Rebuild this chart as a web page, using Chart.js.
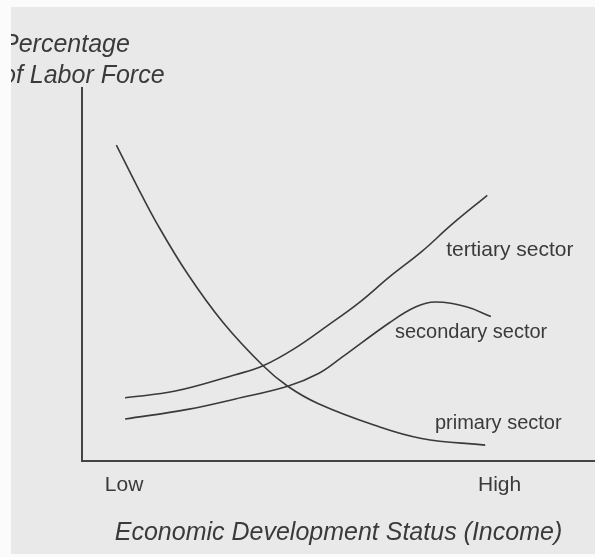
<!DOCTYPE html>
<html>
<head>
<meta charset="utf-8">
<script src="https://cdn.jsdelivr.net/npm/chart.js@4.4.0/dist/chart.umd.min.js"></script>
<style>
    html, body { margin: 0; padding: 0; background: #ffffff; }
    #wrap { width: 595px; height: 557px; }
</style>
</head>
<body>
<div id="wrap"><canvas id="chart" width="595" height="557"></canvas></div>
<script>
// Dados (escala 0-100 nos dois eixos)
const primaryX = [6.7, 10.8, 14.5, 20.6, 27.5, 35.3, 40.1, 46.1, 56.9, 66.2, 78.6];
const primaryY = [84.7, 73.5, 63.9, 50.1, 37.1, 25.5, 20.0, 15.3, 9.6, 6.0, 4.2];

const secondaryX = [8.4, 20.6, 29.9, 40.1, 46.1, 50.7, 60.0, 65.1, 68.8, 74.9, 79.7];
const secondaryY = [11.2, 13.8, 16.6, 20.0, 23.4, 27.8, 37.1, 41.3, 42.6, 41.3, 38.7];

const tertiaryX = [8.4, 18.2, 29.9, 35.3, 41.4, 48.0, 53.9, 60.0, 66.2, 72.1, 79.0];
const tertiaryY = [16.9, 18.7, 23.1, 25.5, 30.1, 36.4, 42.3, 49.4, 56.1, 63.4, 71.2];

const xTickValues = [8.2, 81.4];
const xTickLabels = ['Low', 'High'];

const yTitleLines = ['Percentage', 'of Labor Force'];
const xTitle = 'Economic Development Status (Income)';

const sectorLabels = ['tertiary sector', 'secondary sector', 'primary sector'];

const INK = '#3a3a3a';
const PAPER = '#e9e9e9';

function toPoints(xs, ys) {
    return xs.map((x, i) => ({ x: x, y: ys[i] }));
}

function lineDataset(label, xs, ys) {
    return {
        label: label,
        data: toPoints(xs, ys),
        borderColor: INK,
        borderWidth: 1.6,
        pointRadius: 0,
        fill: false,
        tension: 0.4
    };
}

// fundo cinza do papel e textos soltos
const paperPlugin = {
    id: 'paper',
    beforeDraw(chart) {
        const ctx = chart.ctx;
        ctx.save();
        ctx.fillStyle = PAPER;
        ctx.fillRect(0, 0, chart.width, chart.height);
        ctx.restore();
    },
    afterDraw(chart) {
        const ctx = chart.ctx;
        const xs = chart.scales.x;
        const ys = chart.scales.y;
        ctx.save();
        ctx.fillStyle = INK;
        ctx.textBaseline = 'middle';
        ctx.textAlign = 'left';

        const anchors = [[71.0, 56.4], [61.0, 34.5], [68.8, 9.9]];
        const sizes = [21, 20, 20];
        sectorLabels.forEach((txt, i) => {
            ctx.font = sizes[i] + 'px "Liberation Sans", Arial, sans-serif';
            ctx.fillText(txt, xs.getPixelForValue(anchors[i][0]), ys.getPixelForValue(anchors[i][1]));
        });

        ctx.font = 'italic 25px "Liberation Sans", Arial, sans-serif';
        ctx.textBaseline = 'alphabetic';
        ctx.fillText(yTitleLines[0], 2, 52);
        ctx.fillText(yTitleLines[1], 2, 83);

        // margem branca da digitalização
        ctx.fillStyle = '#fbfbfb';
        ctx.fillRect(0, 0, 11, chart.height);
        ctx.fillRect(0, 0, chart.width, 7);
        ctx.fillRect(0, chart.height - 3, chart.width, 3);
        ctx.restore();
    }
};

const ctx = document.getElementById('chart').getContext('2d');
const chart = new Chart(ctx, {
    type: 'line',
    data: {
        datasets: [
            lineDataset('primary sector', primaryX, primaryY),
            lineDataset('secondary sector', secondaryX, secondaryY),
            lineDataset('tertiary sector', tertiaryX, tertiaryY)
        ]
    },
    options: {
        responsive: false,
        animation: false,
        layout: {
            padding: { left: 82, top: 88, right: -25, bottom: 9 }
        },
        plugins: {
            legend: { display: false },
            tooltip: { enabled: false }
        },
        scales: {
            x: {
                type: 'linear',
                min: 0,
                max: 100,
                afterBuildTicks: (axis) => {
                    axis.ticks = xTickValues.map(v => ({ value: v }));
                },
                ticks: {
                    padding: 12,
                    color: INK,
                    maxRotation: 0,
                    autoSkip: false,
                    font: { family: '"Liberation Sans", Arial, sans-serif', size: 21 },
                    callback: (value, index) => xTickLabels[index]
                },
                grid: { display: false, drawTicks: false },
                border: { display: true, color: '#444444', width: 2 },
                title: {
                    display: true,
                    text: xTitle,
                    color: INK,
                    padding: { top: 8, bottom: 0 },
                    font: { family: '"Liberation Sans", Arial, sans-serif', size: 25, style: 'italic' }
                }
            },
            y: {
                type: 'linear',
                min: 0,
                max: 100,
                ticks: { display: false },
                grid: { display: false, drawTicks: false },
                border: { display: true, color: '#444444', width: 2 }
            }
        }
    },
    plugins: [paperPlugin]
});
</script>
</body>
</html>
